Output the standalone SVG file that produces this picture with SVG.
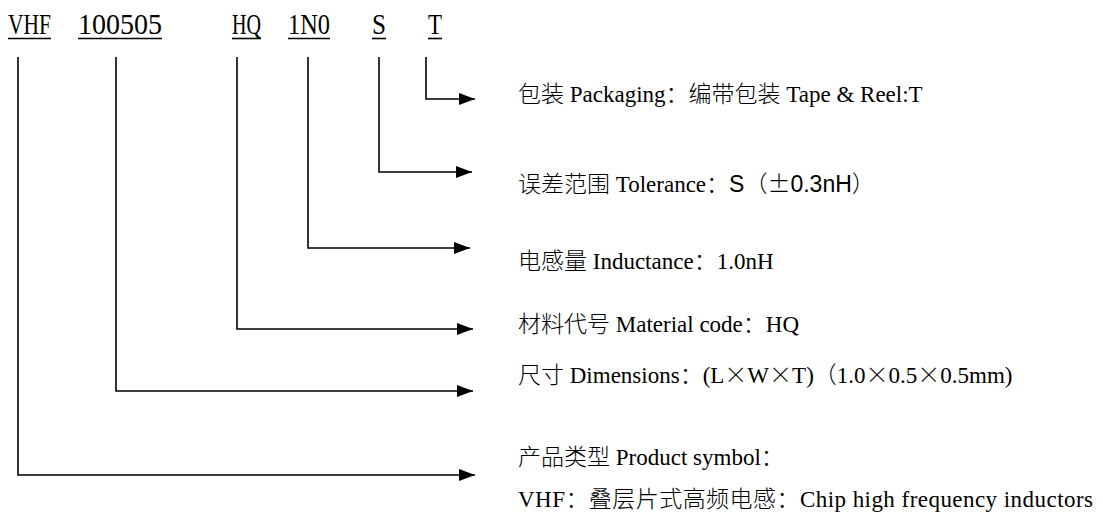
<svg xmlns="http://www.w3.org/2000/svg" width="1103" height="517" viewBox="0 0 1103 517">
<style>
.code{font-family:"Liberation Serif","Noto Sans CJK SC",serif;font-size:29px;fill:#000}
.ul{stroke:#000;stroke-width:1.6}
.lbl{font-family:"Liberation Serif","Noto Sans CJK SC",serif;font-size:23px;font-weight:300;fill:#000}
.cjk{font-family:"Noto Sans CJK SC",sans-serif}
.sans{font-family:"Liberation Sans",Arial,sans-serif}
.conn{fill:none;stroke:#000;stroke-width:1.6}
</style>
<defs>
<marker id="arrow" viewBox="0 0 16 12" refX="16" refY="6" markerWidth="16" markerHeight="12" markerUnits="userSpaceOnUse" orient="auto">
<path d="M0,0 L16,6 L0,12 Z" fill="#000"/>
</marker>
</defs>
<rect width="1103" height="517" fill="#fff"/>
<g id="code-vhf"><text class="code" x="8" y="34" textLength="43" lengthAdjust="spacingAndGlyphs">VHF</text><line class="ul" x1="8" y1="38.5" x2="51" y2="38.5"/></g>
<g id="code-size"><text class="code" x="78" y="34" textLength="84" lengthAdjust="spacingAndGlyphs">100505</text><line class="ul" x1="78" y1="38.5" x2="162" y2="38.5"/></g>
<g id="code-hq"><text class="code" x="232" y="34" textLength="29" lengthAdjust="spacingAndGlyphs">HQ</text><line class="ul" x1="232" y1="38.5" x2="261" y2="38.5"/></g>
<g id="code-1n0"><text class="code" x="288" y="34" textLength="42" lengthAdjust="spacingAndGlyphs">1N0</text><line class="ul" x1="288" y1="38.5" x2="330" y2="38.5"/></g>
<g id="code-s"><text class="code" x="372" y="34" textLength="14" lengthAdjust="spacingAndGlyphs">S</text><line class="ul" x1="372" y1="38.5" x2="386" y2="38.5"/></g>
<g id="code-t"><text class="code" x="428" y="34" textLength="14" lengthAdjust="spacingAndGlyphs">T</text><line class="ul" x1="428" y1="38.5" x2="442" y2="38.5"/></g>
<g id="connectors">
<path class="conn" d="M426,57 V99 H475" marker-end="url(#arrow)"/>
<path class="conn" d="M379,57 V172 H472" marker-end="url(#arrow)"/>
<path class="conn" d="M308,57 V248 H470" marker-end="url(#arrow)"/>
<path class="conn" d="M237,57 V329 H473" marker-end="url(#arrow)"/>
<path class="conn" d="M116,57 V391 H473" marker-end="url(#arrow)"/>
<path class="conn" d="M18,57 V475 H475" marker-end="url(#arrow)"/>
</g>
<g id="label-packaging"><text class="lbl" x="518" y="102">包装 Packaging<tspan class="cjk">：</tspan>编带包装 Tape &amp; Reel:T</text></g>
<g id="label-tolerance"><text class="lbl" x="518" y="192">误差范围 Tolerance<tspan class="cjk">：</tspan><tspan class="sans">S</tspan><tspan class="cjk">（±</tspan><tspan class="sans">0.3nH</tspan><tspan class="cjk">）</tspan></text></g>
<g id="label-inductance"><text class="lbl" x="518" y="269">电感量 Inductance<tspan class="cjk">：</tspan>1.0nH</text></g>
<g id="label-material"><text class="lbl" x="518" y="332">材料代号 Material code<tspan class="cjk">：</tspan>HQ</text></g>
<g id="label-dimensions"><text class="lbl" x="518" y="383">尺寸 Dimensions<tspan class="cjk">：</tspan>(L<tspan class="cjk">×</tspan>W<tspan class="cjk">×</tspan>T)<tspan class="cjk">（</tspan>1.0<tspan class="cjk">×</tspan>0.5<tspan class="cjk">×</tspan>0.5mm)</text></g>
<g id="label-product"><text class="lbl" x="518" y="465">产品类型 Product symbol<tspan class="cjk">：</tspan></text>
<text class="lbl" x="518" y="507" textLength="575" lengthAdjust="spacing">VHF<tspan class="cjk">：</tspan>叠层片式高频电感<tspan class="cjk">：</tspan>Chip high frequency inductors</text></g>
</svg>
